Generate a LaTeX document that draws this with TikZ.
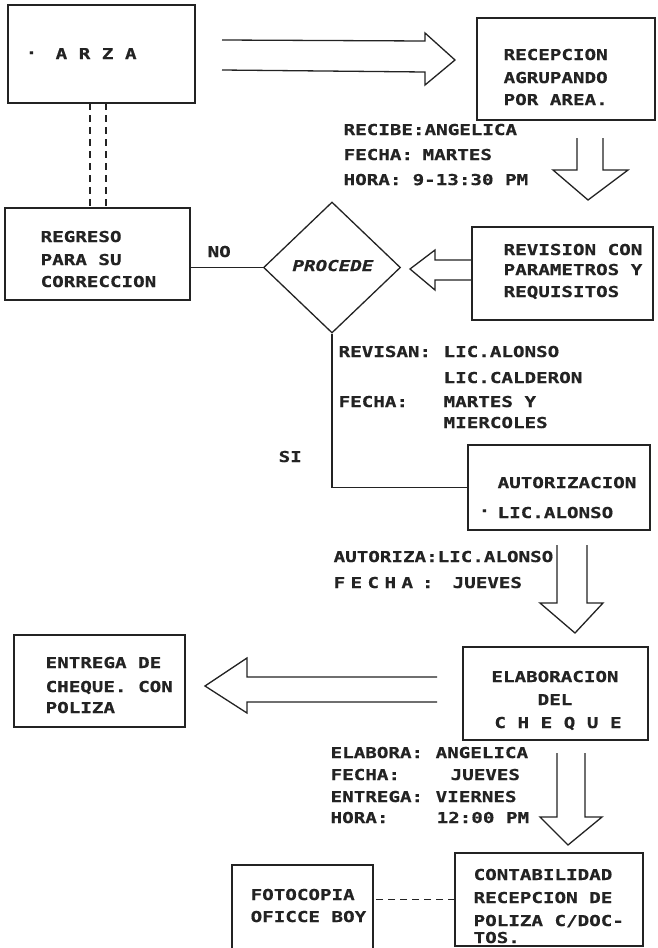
\documentclass[tikz,border=0pt]{standalone}
\usepackage{fontspec}
\newfontfamily\tw[FakeStretch=1.28,BoldFeatures={FakeBold=0.6},BoldItalicFeatures={FakeBold=0.6}]{DejaVu Sans Mono}
\usetikzlibrary{shapes.geometric,calc}
\definecolor{ink}{RGB}{35,35,35}
\begin{document}
\begin{tikzpicture}[x=1pt,y=-1pt,line width=1.3pt,draw=ink,
  box/.style={draw=ink,rectangle,inner sep=0,outer sep=0},
  txt/.style={anchor=base west,inner sep=0,text=ink,font=\tw\bfseries\fontsize{15}{17}\selectfont},
  ctxt/.style={txt,anchor=base},
  blk/.style={draw=ink,line width=1.3pt,line join=miter},
  dline/.style={draw=ink,line width=1.3pt,dash pattern=on 7pt off 5pt}]
\useasboundingbox[fill=white] (0,0) rectangle (657,948);

% ---------------- boxes ----------------
\node[box,minimum width=187pt,minimum height=98pt] (arza) at (101.5,54) {};
\node[box,minimum width=178pt,minimum height=102pt] (recep) at (566,69) {};
\node[box,minimum width=185pt,minimum height=92pt] (regreso) at (97.5,254) {};
\node[draw=ink,diamond,inner sep=0,minimum width=137pt,minimum height=131pt] (proc) at (332,267.5) {};
\node[box,minimum width=181pt,minimum height=93pt] (revision) at (562.5,273.5) {};
\node[box,minimum width=182pt,minimum height=85pt] (autor) at (559,487.5) {};
\node[box,minimum width=185pt,minimum height=93pt] (elab) at (555.5,693.5) {};
\node[box,minimum width=171pt,minimum height=92pt] (entrega) at (99.5,681) {};
\node[box,minimum width=188pt,minimum height=93pt] (conta) at (549,899.5) {};
\node[box,minimum width=141pt,minimum height=100pt] (foto) at (302.5,915) {};

% ---------------- texts in boxes ----------------
\node[txt] (t-dot) at (25,58) {·};
\node[txt] (t-arza) at (55,59) {A R Z A};

\node[txt] (t-rec1) at (503,60) {RECEPCION};
\node[txt] (t-rec2) at (503,83) {AGRUPANDO};
\node[txt] (t-rec3) at (503,105) {POR AREA.};

\node[txt] (t-reg1) at (40,242) {REGRESO};
\node[txt] (t-reg2) at (40,265) {PARA SU};
\node[txt] (t-reg3) at (40,287) {CORRECCION};

\node[txt,anchor=base,font=\tw\bfseries\itshape\fontsize{15}{17}\selectfont] (t-proc) at (333,271) {PROCEDE};

\node[txt] (t-rev1) at (503,255) {REVISION CON};
\node[txt] (t-rev2) at (503,275) {PARAMETROS Y};
\node[txt] (t-rev3) at (503,297) {REQUISITOS};

\node[txt] (t-aut1) at (497,488) {AUTORIZACION};
\node[txt] (t-aut0) at (478,516) {·};
\node[txt] (t-aut2) at (497,518) {LIC.ALONSO};

\node[ctxt] (t-ela1) at (555,682) {ELABORACION};
\node[ctxt] (t-ela2) at (555,705) {DEL};
\node[ctxt] (t-ela3) at (558,728) {C H E Q U E};

\node[txt] (t-ent1) at (45,668) {ENTREGA DE};
\node[txt] (t-ent2) at (45,692) {CHEQUE. CON};
\node[txt] (t-ent3) at (45,713) {POLIZA};

\node[txt] (t-con1) at (473,880) {CONTABILIDAD};
\node[txt] (t-con2) at (473,903) {RECEPCION DE};
\node[txt] (t-con3) at (473,926) {POLIZA C/DOC-};
\node[txt] (t-con4) at (473,943) {TOS.};

\node[txt] (t-fot1) at (250,900) {FOTOCOPIA};
\node[txt] (t-fot2) at (250,922) {OFICCE BOY};

% ---------------- free annotations ----------------
\node[txt] (r1) at (343,135) {RECIBE:ANGELICA};
\node[txt] (r2) at (343,160) {FECHA:};
\node[txt] (r2v) at (422,160) {MARTES};
\node[txt] (r3) at (343,185) {HORA:};
\node[txt] (r3v) at (412,185) {9-13:30 PM};

\node[txt] (no) at (207,257) {NO};
\node[txt] (si) at (278,462) {SI};

\node[txt] (v1) at (338,357) {REVISAN:};
\node[txt] (v1v) at (443,357) {LIC.ALONSO};
\node[txt] (v2v) at (443,383) {LIC.CALDERON};
\node[txt] (v3) at (338,407) {FECHA:};
\node[txt] (v3v) at (443,407) {MARTES Y};
\node[txt] (v4v) at (443,428) {MIERCOLES};

\node[txt] (z1) at (333,562) {AUTORIZA:LIC.ALONSO};
\node[txt] (z2) at (333,588) {F\hspace{5.4pt}E\hspace{5.4pt}C\hspace{5.4pt}H\hspace{5.4pt}A\hspace{9pt}:};
\node[txt] (z2v) at (452,588) {JUEVES};

\node[txt] (e1) at (330,758) {ELABORA:};
\node[txt] (e1v) at (435,758) {ANGELICA};
\node[txt] (e2) at (330,780) {FECHA:};
\node[txt] (e2v) at (450,780) {JUEVES};
\node[txt] (e3) at (330,802) {ENTREGA:};
\node[txt] (e3v) at (435,802) {VIERNES};
\node[txt] (e4) at (330,823) {HORA:};
\node[txt] (e4v) at (436,823) {12:00 PM};

% ---------------- connectors ----------------
\draw (proc.west) -- (proc.west -| regreso.east);
\draw (proc.south) |- (autor.west);
\draw[dline] ([xshift=-11.5pt]arza.south) -- ([xshift=-7.5pt]regreso.north);
\draw[dline] ([xshift=4.5pt]arza.south) -- ([xshift=8.5pt]regreso.north);
\draw[line width=1.5pt,dash pattern=on 7pt off 5pt] (conta.west) -- (conta.west -| foto.east);

% ---------------- block arrows ----------------
\draw[blk] (222,40) -- (425,41) -- (425,33) -- (455,60) -- (425,85) -- (425,72) -- (222,70);
\draw[blk] (577,138) -- (577,170) -- (553,170) -- (588,200) -- (628,170) -- (603,170) -- (603,138);
\draw[blk] (472,260) -- (435,260) -- (435,250) -- (410,269) -- (435,290) -- (435,280) -- (472,280);
\draw[blk] (557,545) -- (557,603) -- (540,603) -- (575,633) -- (603,603) -- (587,603) -- (587,545);
\draw[blk] (437,677) -- (247,677) -- (247,658) -- (205,686) -- (247,713) -- (247,702) -- (437,702);
\draw[blk] (557,753) -- (557,817) -- (540,817) -- (568,845) -- (602,817) -- (585,817) -- (585,753);
\end{tikzpicture}
\end{document}
